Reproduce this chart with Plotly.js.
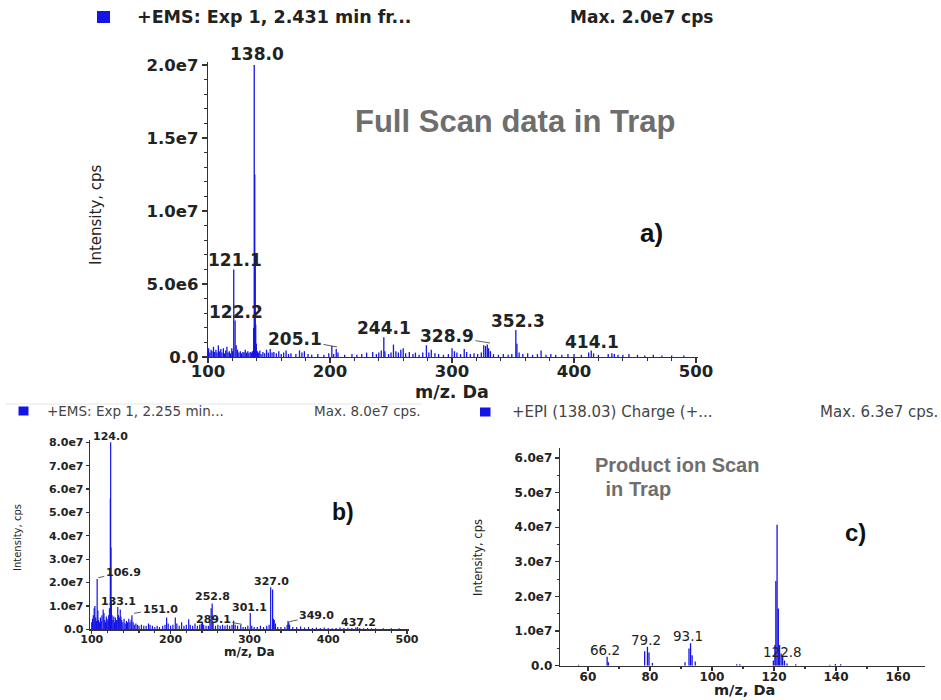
<!DOCTYPE html>
<html><head><meta charset="utf-8">
<script src="https://cdn.plot.ly/plotly-3.0.1.min.js"></script>
<style>html,body{margin:0;padding:0;background:#fff;}#chart{width:941px;height:700px;}</style>
</head><body><div id="chart"></div>
<script>
// ---------- Panel a: full scan (intensity in units of 1e6 cps) ----------
const mzA = [
 100.5,101.5,102.5,103.3,104.5,105.5,106.5,107.4,108.5,109.6,
 110.5,111.4,112.6,113.5,114.5,115.5,116.4,117.5,118.4,119.5,
 120.2,121.1,122.2,123.1,124.2,125.3,126.5,127.5,128.6,129.5,
 130.5,131.5,132.6,133.5,134.6,135.5,136.5,137.4,137.9,138.3,
 138.7,139.1,139.6,140.5,141.5,142.5,143.5,145,146.5,148,
 149.5,151,152.5,154,156,158,160,162,164,166,
 168,172,175,177,179,182,185,190,195,199,
 201.5,203,205.1,206.5,212,218,222,226,230,235,
 238,240,242,244.1,245,248,250,252,254,256,
 258,260,262,265,268,270,273,276,279,281,
 283,286,289,293,297,300,302,304,307,310,
 312,315,318,321,324,326,327.5,328.9,330,331.5,
 334,338,342,346,349,352.3,353.2,355,358,362,
 366,370,373,377,381,385,390,395,400,406,
 412,414.1,416,420,428,431,433,436,440,445,
 452,458,465,472,480,490];
const intA = [
 0.6,0.3,0.5,0.4,0.7,0.35,0.5,0.3,0.8,0.4,
 0.55,0.3,0.6,0.25,0.45,0.7,0.3,0.4,0.25,0.6,
 0.4,6.0,2.5,0.8,0.5,0.3,0.4,0.25,0.35,0.3,
 0.5,0.3,0.4,0.25,0.35,0.3,0.4,2.0,20.0,12.5,
 7.0,2.2,0.9,0.4,0.3,0.45,0.2,0.35,0.25,0.5,
 0.3,0.55,0.3,0.35,0.25,0.4,0.2,0.3,0.45,0.2,
 0.25,0.2,0.45,0.3,0.4,0.2,0.15,0.2,0.15,0.25,
 0.75,0.2,0.55,0.3,0.15,0.2,0.15,0.2,0.3,0.35,
 0.2,0.3,0.45,1.35,0.4,0.2,0.3,0.85,0.4,0.3,
 0.5,0.6,0.25,0.35,0.2,0.3,0.15,0.3,0.8,0.3,
 0.5,0.25,0.2,0.15,0.2,0.6,0.4,0.3,0.2,0.55,
 0.35,0.2,0.25,0.2,0.3,0.8,0.75,0.85,0.6,0.4,
 0.2,0.15,0.2,0.15,0.2,1.85,0.9,0.3,0.2,0.25,
 0.15,0.2,0.45,0.15,0.2,0.15,0.15,0.2,0.2,0.15,
 0.3,0.45,0.25,0.15,0.2,0.25,0.2,0.15,0.15,0.2,
 0.15,0.1,0.15,0.1,0.1,0.1];
const xTicksA = [100,200,300,400,500];
const yTicksA = [0,5,10,15,20];
const yTextA = ['0.0','5.0e6','1.0e7','1.5e7','2.0e7'];

// ---------- Panel b: full scan (intensity in units of 1e7 cps) ----------
const mzB = [
 100,101,102,103.1,104,105,106,106.9,107.8,108.5,
 110,111,112,113,114.5,115.5,116.5,117.5,118.5,119.5,
 120.5,121.5,122.5,123.6,124.0,124.4,124.9,125.8,126.8,128,
 129,130,131.5,133,134,135,136.2,137,138,139.5,
 141,142.5,144,145.5,147,148.5,150,151,152.5,154,
 156,158,160,163,166,169,172,174,177,180,
 183,186,190,193,195,197,200,203,206,208,
 211,214,217,220,223,225,228,231,234,237,
 239,240.5,242,245,248,250,251.5,252.8,254,257,
 260,263,266,269,272,275,278,280,282,285,
 289.1,292,295,298,301.1,303,306,310,314,318,
 322,325,327,329.5,330.5,331.5,333,336,340,345,
 348,349,350,351,355,360,365,370,375,380,
 385,390,395,400,405,410,415,420,425,430,
 435,437.2,440,445,450,455,460,470,480,490];
const intB = [
 0.3,0.45,0.6,0.9,1.0,0.5,0.35,2.15,0.8,0.4,
 0.3,0.5,0.35,0.6,0.85,0.7,0.4,0.3,0.55,0.35,
 0.45,0.6,0.9,5.6,8.0,3.5,1.2,0.6,0.4,0.55,
 0.3,0.5,0.4,0.95,0.6,0.5,0.85,0.55,0.4,0.3,
 0.45,0.25,0.35,0.3,0.45,0.3,0.4,0.6,0.3,0.2,
 0.25,0.2,0.15,0.2,0.15,0.15,0.25,0.2,0.15,0.1,
 0.15,0.1,0.15,0.2,0.5,0.25,0.15,0.2,0.5,0.25,
 0.15,0.3,0.15,0.2,0.43,0.2,0.15,0.25,0.15,0.2,
 0.25,0.3,0.2,0.15,0.15,0.3,0.9,1.1,0.3,0.15,
 0.2,0.15,0.2,0.15,0.2,0.15,0.2,0.37,0.2,0.15,
 0.2,0.1,0.1,0.15,0.7,0.15,0.1,0.1,0.15,0.1,
 0.15,0.2,1.8,1.7,0.45,0.4,0.25,0.1,0.1,0.1,
 0.2,0.35,0.3,0.2,0.1,0.1,0.12,0.08,0.1,0.06,
 0.08,0.06,0.08,0.06,0.05,0.06,0.08,0.06,0.07,0.06,
 0.08,0.1,0.06,0.05,0.06,0.05,0.05,0.05,0.05,0.04];
const xTicksB = [100,200,300,400,500];
const yTicksB = [0,1,2,3,4,5,6,7,8];
const yTextB = ['0.0','1.0e7','2.0e7','3.0e7','4.0e7','5.0e7','6.0e7','7.0e7','8.0e7'];

// ---------- Panel c: product ion scan (intensity in units of 1e7 cps) ----------
const mzC = [
 57,66.2,66.6,78.3,79.2,79.7,80.8,91.3,92.6,93.1,
 93.6,94.6,108,109,119.8,120.3,120.6,121.0,121.4,121.8,
 122.3,122.8,123.4,124.2,127,138,139.8,141.5];
const intC = [
 0.03,0.26,0.1,0.42,0.55,0.38,0.08,0.1,0.5,0.65,
 0.3,0.12,0.04,0.04,0.15,0.6,2.45,4.07,1.65,0.6,
 0.35,0.26,0.15,0.06,0.04,0.03,0.05,0.04];
const xTicksC = [60,80,100,120,140,160];
const yTicksC = [0,1,2,3,4,5,6];
const yTextC = ['0.0','1.0e7','2.0e7','3.0e7','4.0e7','5.0e7','6.0e7'];

// ---------- helpers ----------
const W = 941, H = 700;
const BLUE = '#1414e6';
function sticks(mz, inten) {
  const x = [], y = [];
  mz.forEach((m, i) => { x.push(m, m, null); y.push(0, inten[i], null); });
  return {x, y};
}
function F(size, weight, color, family) {
  return {family: family || 'DejaVu Sans', size: size, weight: weight || 'normal', color: color || '#222'};
}
function A(text, px, py, font, extra) {
  return Object.assign({text: text, xref: 'paper', yref: 'paper', x: px / W, y: 1 - py / H,
    xanchor: 'center', yanchor: 'middle', showarrow: false, font: font}, extra || {});
}
function lead(text, px, py, tx, ty, font) {
  return {text: text, xref: 'paper', yref: 'paper', x: px / W, y: 1 - py / H,
    ax: tx - px, ay: ty - py, showarrow: true, arrowhead: 0, arrowwidth: 0.8,
    arrowcolor: '#333', font: font, standoff: 0, startstandoff: 0};
}

const sa = sticks(mzA, intA), sb = sticks(mzB, intB), sc = sticks(mzC, intC);
const traces = [
  {type: 'scatter', mode: 'lines', x: sa.x, y: sa.y, xaxis: 'x', yaxis: 'y',
   line: {color: BLUE, width: 1.3}, connectgaps: false, hoverinfo: 'skip'},
  {type: 'scatter', mode: 'lines', x: sb.x, y: sb.y, xaxis: 'x2', yaxis: 'y2',
   line: {color: BLUE, width: 1.2}, connectgaps: false, hoverinfo: 'skip'},
  {type: 'scatter', mode: 'lines', x: sc.x, y: sc.y, xaxis: 'x3', yaxis: 'y3',
   line: {color: BLUE, width: 1.3}, connectgaps: false, hoverinfo: 'skip'}
];

const axBase = {showline: true, linecolor: '#333', linewidth: 1.3, ticks: 'outside',
  tickcolor: '#333', tickwidth: 1.2, showgrid: false, zeroline: false, fixedrange: true};

const layout = {
  width: W, height: H, margin: {l: 0, r: 0, t: 0, b: 0},
  paper_bgcolor: '#fff', plot_bgcolor: 'rgba(0,0,0,0)', showlegend: false,
  xaxis: Object.assign({}, axBase, {domain: [208 / W, 698 / W], anchor: 'y', range: [100, 501.6],
    tickmode: 'array', tickvals: xTicksA, ticklen: 5, tickfont: F(16.5, 'bold'), ticklabelstandoff: -6,
    minor: {ticks: 'outside', ticklen: 3, dtick: 20, tickcolor: '#333'}}),
  yaxis: Object.assign({}, axBase, {domain: [1 - 357 / H, 1 - 62 / H], anchor: 'x', range: [0, 20.2],
    tickmode: 'array', tickvals: yTicksA, ticktext: yTextA, ticklen: 5, tickfont: F(16.5, 'bold'),
    minor: {ticks: 'outside', ticklen: 2.5, dtick: 1, tickcolor: '#333'}}),
  xaxis2: Object.assign({}, axBase, {domain: [90 / W, 409 / W], anchor: 'y2', range: [97.8, 502.5],
    tickmode: 'array', tickvals: xTicksB, ticklen: 3, tickfont: F(11, 'bold'), ticklabelstandoff: -4,
    minor: {ticks: 'outside', ticklen: 2, dtick: 20, tickcolor: '#333'}}),
  yaxis2: Object.assign({}, axBase, {domain: [1 - 629.3 / H, 1 - 440 / H], anchor: 'x2', range: [0, 8.1],
    tickmode: 'array', tickvals: yTicksB, ticktext: yTextB, ticklen: 3, tickfont: F(11, 'bold')}),
  xaxis3: Object.assign({}, axBase, {domain: [560 / W, 925 / W], anchor: 'y3', range: [51, 168.7],
    tickmode: 'array', tickvals: xTicksC, ticklen: 4, tickfont: F(12, 'bold'), ticklabelstandoff: -4,
    minor: {ticks: 'outside', ticklen: 2, dtick: 10, tickcolor: '#333'}}),
  yaxis3: Object.assign({}, axBase, {domain: [1 - 665.7 / H, 1 - 447.7 / H], anchor: 'x3', range: [0, 6.3],
    tickmode: 'array', tickvals: yTicksC, ticktext: yTextC, ticklen: 4, tickfont: F(12, 'bold'),
    minor: {ticks: 'outside', ticklen: 2, dtick: 0.5, tickcolor: '#333'}}),
  shapes: [
    {type: 'rect', xref: 'paper', yref: 'paper', x0: 97 / W, x1: 110 / W, y0: 1 - 23 / H, y1: 1 - 11 / H,
     fillcolor: BLUE, line: {width: 0}},
    {type: 'rect', xref: 'paper', yref: 'paper', x0: 18.5 / W, x1: 28.5 / W, y0: 1 - 415.5 / H, y1: 1 - 406.5 / H,
     fillcolor: BLUE, line: {width: 0}},
    {type: 'rect', xref: 'paper', yref: 'paper', x0: 480 / W, x1: 490.5 / W, y0: 1 - 416.5 / H, y1: 1 - 407.5 / H,
     fillcolor: BLUE, line: {width: 0}},
    {type: 'line', xref: 'paper', yref: 'paper', x0: 5 / W, x1: 422 / W, y0: 1 - 404 / H, y1: 1 - 404 / H,
     line: {color: '#e6e6e6', width: 1}}
  ],
  annotations: [
    // panel a
    A('+EMS: Exp 1, 2.431 min fr...', 135, 17, F(17.5, 'bold'), {xanchor: 'left'}),
    A('Max. 2.0e7 cps', 716, 17, F(17, 'bold'), {xanchor: 'right'}),
    A('Full Scan data in Trap', 515, 122, F(31, 'bold', '#6e6e6e', 'Liberation Sans')),
    A('a)', 651, 233, F(26, 'bold', '#111', 'Liberation Sans')),
    A('Intensity, cps', 96, 215, F(15), {textangle: -90}),
    A('m/z. Da', 452, 392, F(17.5, 'bold')),
    A('138.0', 257, 54, F(17, 'bold')),
    A('121.1', 235, 260, F(17, 'bold')),
    A('122.2', 236, 312, F(17, 'bold')),
    lead('205.1', 337, 347, 295, 339, F(17, 'bold')),
    A('244.1', 384, 328, F(17, 'bold')),
    lead('328.9', 490, 343, 447, 336, F(17, 'bold')),
    A('352.3', 518, 321, F(17, 'bold')),
    A('414.1', 592, 342, F(17, 'bold')),
    // panel b
    A('+EMS: Exp 1, 2.255 min...', 45, 411, F(13.5, 'normal', '#444'), {xanchor: 'left'}),
    A('Max. 8.0e7 cps.', 422, 411, F(13.5, 'normal', '#444'), {xanchor: 'right'}),
    A('b)', 343, 512, F(23, 'bold', '#111', 'Liberation Sans')),
    A('Intensity, cps', 17, 538, F(10), {textangle: -90}),
    A('m/z, Da', 250, 652, F(12, 'bold')),
    A('124.0', 110, 436, F(11, 'bold')),
    lead('106.9', 98.3, 577.7, 123.3, 572.3, F(11, 'bold')),
    A('133.1', 118, 601, F(11, 'bold')),
    lead('151.0', 134, 613.3, 160, 609, F(11, 'bold')),
    A('252.8', 212, 596, F(11, 'bold')),
    lead('289.1', 241.7, 624.3, 213.3, 619, F(11, 'bold')),
    A('301.1', 250, 607, F(11, 'bold')),
    A('327.0', 271, 581, F(11, 'bold')),
    lead('349.0', 289.3, 621.7, 316.7, 615.7, F(11, 'bold')),
    A('437.2', 358, 622, F(11, 'bold')),
    // panel c
    A('+EPI (138.03) Charge (+...', 510, 412, F(15, 'normal', '#444'), {xanchor: 'left'}),
    A('Max. 6.3e7 cps.', 940, 412, F(15, 'normal', '#444'), {xanchor: 'right'}),
    A('Product ion Scan', 593, 465, F(20, 'bold', '#6e6e6e', 'Liberation Sans'), {xanchor: 'left'}),
    A(' in Trap', 598, 489, F(20, 'bold', '#6e6e6e', 'Liberation Sans'), {xanchor: 'left'}),
    A('c)', 855, 532, F(24, 'bold', '#111', 'Liberation Sans')),
    A('Intensity, cps', 478, 558, F(11.5), {textangle: -90}),
    A('m/z, Da', 744, 690, F(14.5, 'bold')),
    A('66.2', 605, 650, F(13.5)),
    A('79.2', 646, 640, F(13.5)),
    A('93.1', 688, 636, F(13.5)),
    A('122.8', 782, 652, F(13.5))
  ]
};

Plotly.newPlot('chart', traces, layout, {displayModeBar: false, staticPlot: true});
</script>
</body></html>
